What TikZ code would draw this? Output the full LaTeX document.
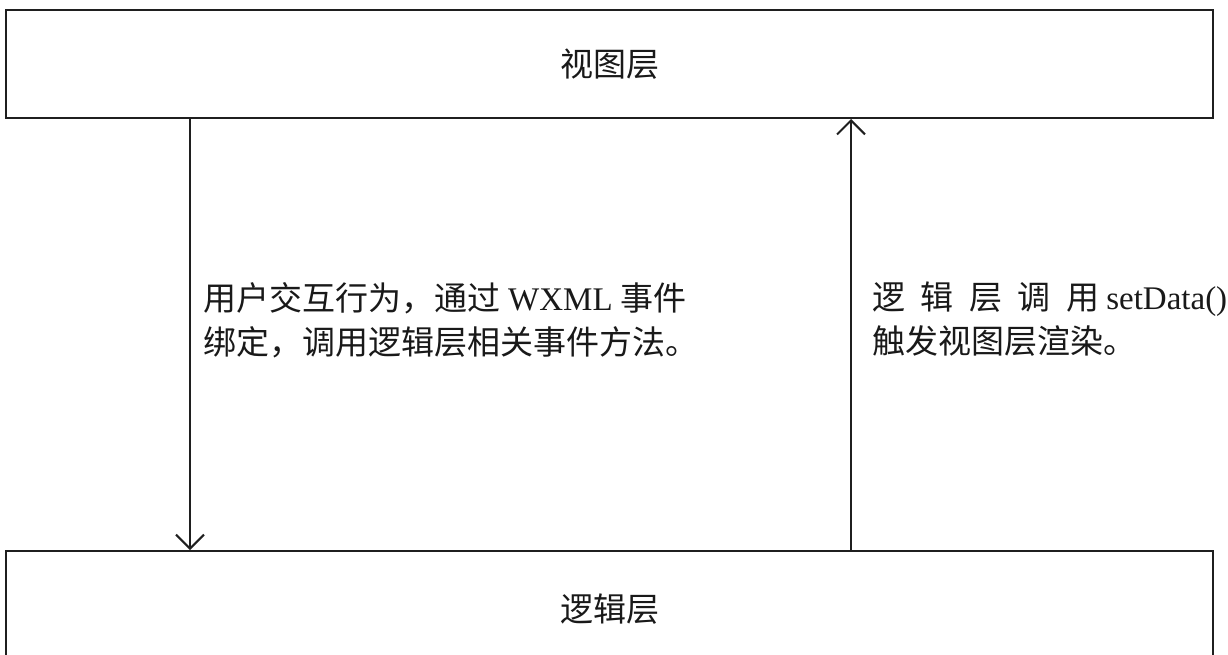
\documentclass[tikz,border=0pt]{standalone}
\usepackage{fontspec}
\setmainfont{Liberation Serif}
\newfontfamily\cjk{Noto Sans CJK SC}
\usetikzlibrary{arrows.meta}
\tikzset{
  layer/.style={draw=black!88, line width=2pt, minimum width=1207pt, inner sep=0pt,
    text=black!90, font=\cjk\fontsize{33}{40}\selectfont},
  flow/.style={draw=black!88, line width=2pt,
    -{Straight Barb[length=14pt,width=28pt,line width=2pt]}},
  desc/.style={anchor=north west, inner sep=0pt, align=left, text=black!90,
    font=\fontsize{33}{44}\selectfont}
}
\begin{document}
\begin{tikzpicture}[x=1pt,y=-1pt]
\useasboundingbox (0,0) rectangle (1228,655);
\clip (0,0) rectangle (1228,655);
\node[layer, minimum height=108pt] (top) at (609.5,64) {视图层};
\node[layer, minimum height=116pt] (bot) at (609.5,609) {逻辑层};
\coordinate (lx) at (190,0);
\coordinate (rx) at (851,0);
\draw[flow] (top.south -| lx) -- (bot.north -| lx);
\draw[flow] (bot.north -| rx) -- (top.south -| rx);
\node[desc] (ltext) at (203,282) {\makebox[479pt][s]{\cjk 用\hfill 户\hfill 交\hfill 互\hfill 行\hfill 为\hfill ，\hfill 通\hfill 过\hspace{8pt}{\rmfamily WXML}\hspace{8pt}事\hfill 件}\\
{\cjk 绑定，调用逻辑层相关事件方法。}};
\node[desc] (rtext) at (872,282) {\makebox[355pt][s]{\cjk 逻\hfill 辑\hfill 层\hfill 调\hfill 用\hspace{7pt}{\rmfamily setData()}}\\
{\cjk 触发视图层渲染。}};
\end{tikzpicture}
\end{document}
